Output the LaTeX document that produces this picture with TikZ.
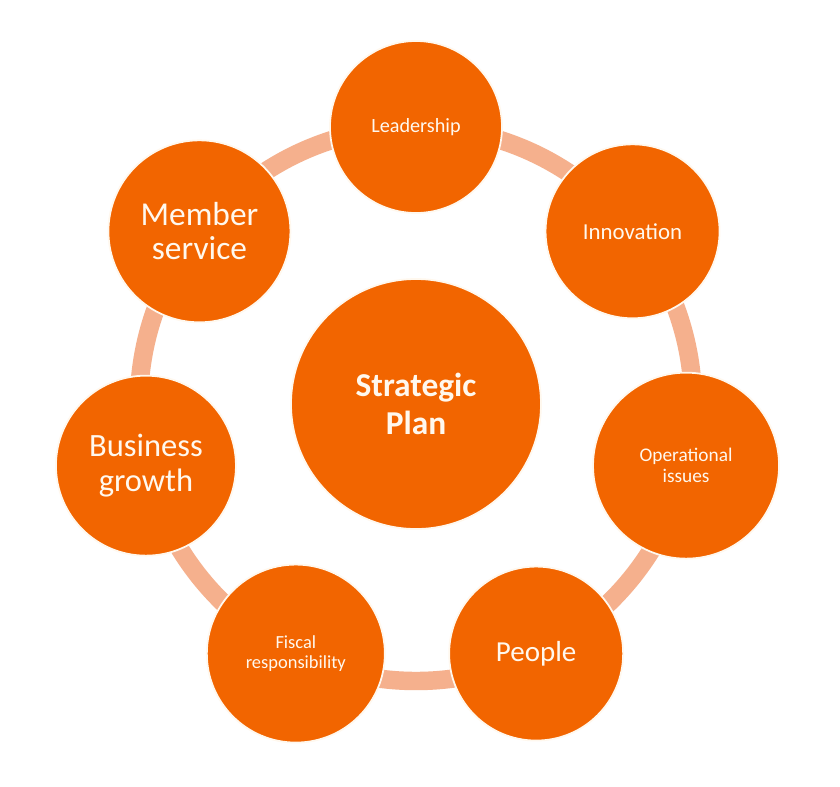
\documentclass[tikz,border=0pt]{standalone}
\usepackage{fontspec}
\setmainfont{Carlito}
\usepackage{tikz}
\definecolor{planorange}{RGB}{242,101,0}
\definecolor{ringcolor}{RGB}{245,176,141}
\definecolor{labelcolor}{RGB}{255,248,238}
\tikzset{
  topic/.style={
    circle, fill=planorange, draw=labelcolor, line width=1pt,
    inner sep=0pt, align=center, text=labelcolor,
  },
  ring/.style={ringcolor, line width=10.5pt},
}
\newcommand{\ringradius}{5.54}
\newcommand{\fsz}[2]{\fontsize{#1}{#2}\selectfont}
% \topic{name}{angle}{diameter}{font size}{line skip}{text}
\newcommand{\topic}[6]{%
  \node[topic, minimum size=#3cm, font=\fsz{#4}{#5}] (#1) at (#2:\ringradius) {#6};}

\begin{document}
\begin{tikzpicture}
    \fill[white] (-8.32,-7.64) rectangle (8.48,8.08);
    \useasboundingbox (-8.32,-7.64) rectangle (8.48,8.08);
    \draw[ring] (0,0) circle (\ringradius);
    \node[topic, minimum size=5cm, font=\fsz{19}{22}\bfseries] (plan) at (0,0)
      {Strategic\\Plan};
    \topic{leadership}{90}{3.44}{11.5}{13}{Leadership}
    \topic{innovation}{38.57}{3.48}{13}{15}{Innovation}
    \topic{operational}{-12.86}{3.72}{11}{12}{Operational\\issues}
    \topic{people}{-64.29}{3.48}{16.5}{18}{People}
    \topic{fiscal}{-115.71}{3.56}{10.5}{11.4}{Fiscal\\responsibility}
    \topic{business}{-167.14}{3.6}{18.5}{19.5}{Business\\growth}
    \topic{member}{141.43}{3.64}{19}{19.5}{Member\\service}
\end{tikzpicture}
\end{document}
